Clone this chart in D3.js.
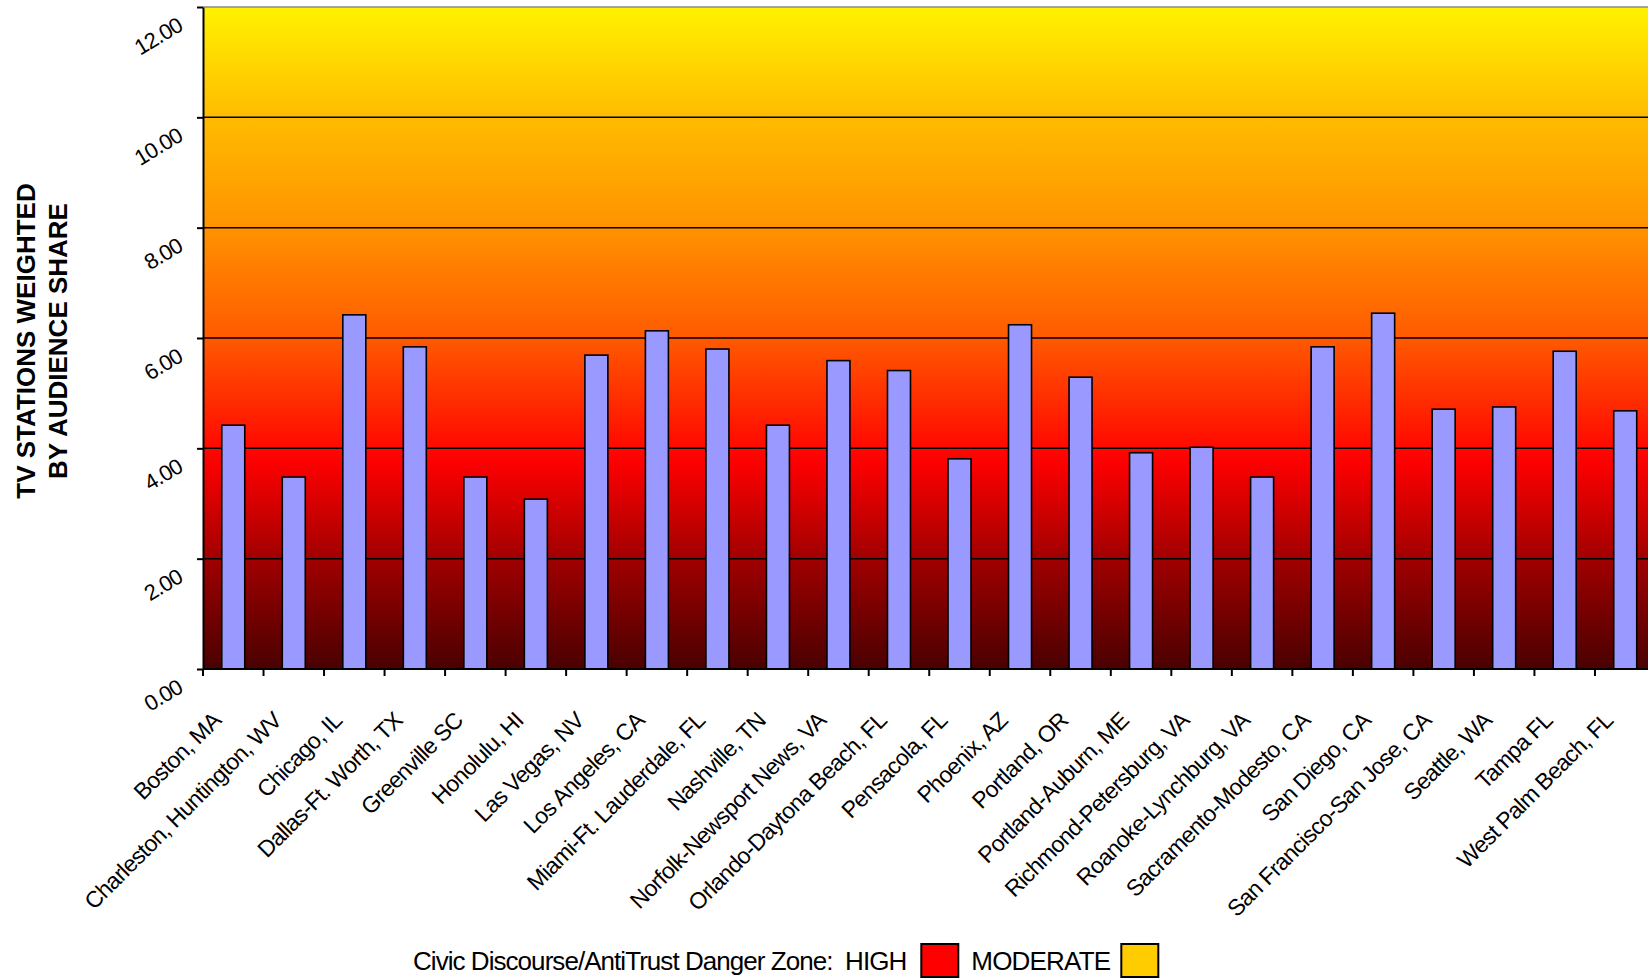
<!DOCTYPE html>
<html>
<head>
<meta charset="utf-8">
<script src="https://cdn.jsdelivr.net/npm/d3@7"></script>
<style>
  html, body { margin: 0; padding: 0; background: #ffffff; overflow: hidden; }
  svg { display: block; font-family: "Liberation Sans", Arial, sans-serif; }
</style>
</head>
<body>
<svg id="chart" width="1648" height="980"></svg>
<script>
// Media markets
const categories = [
  "Boston, MA", "Charleston, Huntington, WV", "Chicago, IL", "Dallas-Ft. Worth, TX",
  "Greenville SC", "Honolulu, HI", "Las Vegas, NV", "Los Angeles, CA",
  "Miami-Ft. Lauderdale, FL", "Nashville, TN", "Norfolk-Newsport News, VA",
  "Orlando-Daytona Beach, FL", "Pensacola, FL", "Phoenix, AZ", "Portland, OR",
  "Portland-Auburn, ME", "Richmond-Petersburg, VA", "Roanoke-Lynchburg, VA",
  "Sacramento-Modesto, CA", "San Diego, CA", "San Francisco-San Jose, CA",
  "Seattle, WA", "Tampa FL", "West Palm Beach, FL"
];

// TV stations weighted by audience share
const values = [
  4.42, 3.48, 6.42, 5.84, 3.48, 3.08, 5.69, 6.13,
  5.80, 4.42, 5.59, 5.41, 3.81, 6.24, 5.29, 3.92,
  4.02, 3.48, 5.84, 6.45, 4.71, 4.75, 5.76, 4.68
];

const yTicks = [0, 2, 4, 6, 8, 10, 12];
const yTitleLines = ["TV STATIONS WEIGHTED", "BY AUDIENCE SHARE"];
const legendLabel = "Civic Discourse/AntiTrust Danger Zone:  HIGH";
const legendItems = [
  { label: "MODERATE", color: "#FFCC00" }
];

const svg = d3.select("#chart");

const plot = { left: 203, top: 7, bottom: 669, bandW: 60.52 };
plot.right = plot.left + plot.bandW * categories.length;

const x = d3.scaleBand().domain(categories).range([plot.left, plot.right]).padding(0);
const y = d3.scaleLinear().domain([0, 12]).range([plot.bottom, plot.top]);

// Background gradient: yellow at the top, through orange and red, to dark red at zero
const defs = svg.append("defs");
const grad = defs.append("linearGradient")
  .attr("id", "zone")
  .attr("gradientUnits", "userSpaceOnUse")
  .attr("x1", 0).attr("x2", 0)
  .attr("y1", plot.top).attr("y2", plot.bottom);
[
  [0.00, "#FFF200"],
  [0.165, "#FFBC00"],
  [0.33, "#FF9400"],
  [0.50, "#FF5A00"],
  [0.685, "#FF0000"],
  [0.835, "#A00000"],
  [1.00, "#4A0000"]
].forEach(([o, c]) => grad.append("stop").attr("offset", o).attr("stop-color", c));

svg.append("rect")
  .attr("x", plot.left).attr("y", plot.top)
  .attr("width", plot.right - plot.left).attr("height", plot.bottom - plot.top)
  .attr("fill", "url(#zone)");

// Horizontal gridlines
svg.append("g").selectAll("line")
  .data(yTicks.filter(d => d > 0))
  .join("line")
  .attr("x1", plot.left).attr("x2", plot.right)
  .attr("y1", d => y(d)).attr("y2", d => y(d))
  .attr("stroke", d => d === 12 ? "#8a8a8a" : "#000")
  .attr("stroke-width", d => d === 12 ? 1.4 : 1.5);

// Bars
const barW = x.bandwidth() * 0.38;
svg.append("g").selectAll("rect")
  .data(values)
  .join("rect")
  .attr("x", (d, i) => x(categories[i]) + (x.bandwidth() - barW) / 2)
  .attr("y", d => y(d))
  .attr("width", barW)
  .attr("height", d => y(0) - y(d))
  .attr("fill", "#9999FF")
  .attr("stroke", "#000")
  .attr("stroke-width", 1.6);

// Y axis
const yAxis = svg.append("g")
  .attr("transform", `translate(${plot.left},0)`)
  .call(d3.axisLeft(y).tickValues(yTicks).tickSize(6).tickSizeOuter(0).tickFormat(d3.format(".2f")));
yAxis.select(".domain").attr("stroke", "#000").attr("stroke-width", 2);
yAxis.selectAll(".tick line").attr("stroke", "#000").attr("stroke-width", 2);
yAxis.selectAll(".tick text")
  .attr("x", 0).attr("dy", null).attr("y", 0)
  .attr("text-anchor", "end")
  .attr("font-size", 22)
  .attr("letter-spacing", -0.8)
  .attr("fill", "#000")
  .attr("font-family", "'Liberation Sans', Arial, sans-serif")
  .attr("transform", "translate(-19,22) rotate(-31)");

// X axis: baseline with ticks at category boundaries
const boundaries = categories.map(c => x(c)).concat([plot.right]);
svg.append("line")
  .attr("x1", plot.left).attr("x2", plot.right)
  .attr("y1", plot.bottom).attr("y2", plot.bottom)
  .attr("stroke", "#000").attr("stroke-width", 2.2);
svg.append("g").selectAll("line")
  .data(boundaries)
  .join("line")
  .attr("x1", d => d).attr("x2", d => d)
  .attr("y1", plot.bottom).attr("y2", plot.bottom + 7)
  .attr("stroke", "#000").attr("stroke-width", 2);

// Category labels, rotated
svg.append("g").selectAll("text")
  .data(categories)
  .join("text")
  .attr("transform", d => `translate(${x(d) + x.bandwidth() / 2 - 11},${plot.bottom + 53}) rotate(-45)`)
  .attr("text-anchor", "end")
  .attr("font-size", 23)
  .attr("letter-spacing", -0.7)
  .attr("fill", "#000")
  .text(d => d);

// Y axis title
svg.append("g")
  .attr("transform", "translate(0,341)")
  .selectAll("text")
  .data(yTitleLines)
  .join("text")
  .attr("transform", (d, i) => `translate(${35 + i * 32},0) rotate(-90)`)
  .attr("text-anchor", "middle")
  .attr("font-size", 26)
  .attr("font-weight", "bold")
  .attr("fill", "#000")
  .text(d => d);

// Legend
const legend = svg.append("g").attr("transform", "translate(413,970)");
const lt = legend.append("text")
  .attr("x", 0).attr("y", 0)
  .attr("font-size", 26)
  .attr("letter-spacing", -0.95)
  .attr("fill", "#000")
  .attr("xml:space", "preserve")
  .style("white-space", "pre")
  .text(legendLabel);
let cursor = lt.node().getComputedTextLength() + 15;
legend.append("rect")
  .attr("x", cursor).attr("y", -26)
  .attr("width", 37).attr("height", 33)
  .attr("fill", "#FF0000").attr("stroke", "#000").attr("stroke-width", 2);
cursor += 37 + 13;
legendItems.forEach(item => {
  const t = legend.append("text")
    .attr("x", cursor).attr("y", 0)
    .attr("font-size", 26)
    .attr("letter-spacing", -0.8)
    .attr("fill", "#000")
    .text(item.label);
  cursor += t.node().getComputedTextLength() + 11;
  legend.append("rect")
    .attr("x", cursor).attr("y", -26)
    .attr("width", 37).attr("height", 33)
    .attr("fill", item.color).attr("stroke", "#000").attr("stroke-width", 2);
  cursor += 37 + 13;
});
</script>
</body>
</html>
